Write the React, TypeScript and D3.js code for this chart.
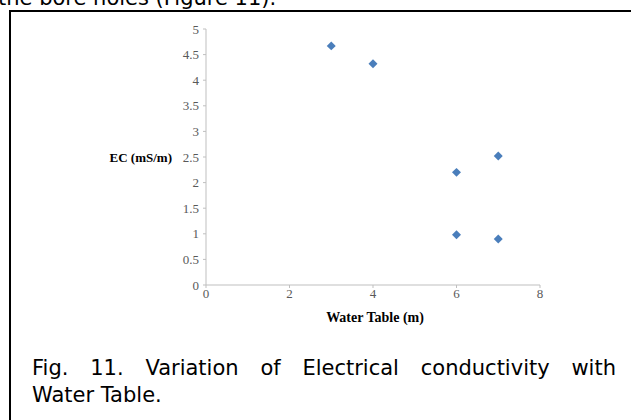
import React, { useLayoutEffect, useRef, useState } from "react";
import * as d3 from "d3";

const waterTable = [3, 4, 6, 7, 6, 7];
const ecValues = [4.67, 4.32, 2.2, 2.52, 0.98, 0.9];
const xTicks = [0, 2, 4, 6, 8];
const yTicks = [0, 0.5, 1, 1.5, 2, 2.5, 3, 3.5, 4, 4.5, 5];
const captionLine1 = ["Fig.", "11.", "Variation", "of", "Electrical", "conductivity", "with"];
const captionLine2 = "Water Table.";
const topText = "the bore holes (Figure 11).";

export default function App() {
  const W = 631, H = 420;
  const x = d3.scaleLinear().domain([0, 8]).range([206, 540]);
  const y = d3.scaleLinear().domain([0, 5]).range([285, 29]);
  const sq = d3.symbol().type(d3.symbolSquare).size(40)() || "";
  const axisColor = "#bfbfbf";
  const tickColor = "#595959";
  const serif = "'Liberation Serif', 'Times New Roman', serif";
  const sans = "'DejaVu Sans', Verdana, sans-serif";
  const capSize = 21;

  const refs = useRef<(SVGTextElement | null)[]>([]);
  const [xs, setXs] = useState<number[] | null>(null);
  useLayoutEffect(() => {
    const widths = refs.current.map((el) => (el ? el.getComputedTextLength() : 0));
    const left = 32, right = 616;
    const total = widths.reduce((a, b) => a + b, 0);
    const gap = (right - left - total) / (widths.length - 1);
    const out: number[] = [];
    let cx = left;
    widths.forEach((w) => { out.push(cx); cx += w + gap; });
    setXs(out);
  }, []);

  return (
    <svg width={W} height={H} style={{ position: "absolute", left: 0, top: 0, background: "#fff" }}>
      <rect x={0} y={0} width={W} height={H} fill="#fff" />
      <text x={-2} y={5} fontFamily={sans} fontSize={21} fill="#000">{topText}</text>
      <line x1={10} y1={11} x2={W} y2={11} stroke="#000" strokeWidth={2} />
      <line x1={10} y1={10} x2={10} y2={H} stroke="#000" strokeWidth={2} />

      {/* axes */}
      <line x1={x(0)} y1={y(0)} x2={x(0)} y2={y(5)} stroke={axisColor} strokeWidth={1} />
      <line x1={x(0)} y1={y(0)} x2={x(8)} y2={y(0)} stroke={axisColor} strokeWidth={1} />
      {yTicks.map((t) => (
        <g key={"y" + t}>
          <line x1={x(0) - 3} x2={x(0)} y1={y(t)} y2={y(t)} stroke={axisColor} />
          <text x={x(0) - 7} y={y(t)} dy="0.35em" textAnchor="end" fontFamily={serif} fontSize={13} fill={tickColor}>{t}</text>
        </g>
      ))}
      {xTicks.map((t) => (
        <g key={"x" + t}>
          <line x1={x(t)} x2={x(t)} y1={y(0)} y2={y(0) + 3} stroke={axisColor} />
          <text x={x(t)} y={y(0) + 13} textAnchor="middle" fontFamily={serif} fontSize={13} fill={tickColor}>{t}</text>
        </g>
      ))}
      <text x={172} y={y(2.5)} dy="0.35em" textAnchor="end" fontFamily={serif} fontSize={13} fontWeight="bold" fill="#000">EC (mS/m)</text>
      <text x={375} y={322} textAnchor="middle" fontFamily={serif} fontSize={14} fontWeight="bold" fill="#000">Water Table (m)</text>

      {waterTable.map((v, i) => (
        <path key={"p" + i} d={sq} transform={`translate(${x(v)},${y(ecValues[i])}) rotate(45)`} fill="#4a7ebb" />
      ))}

      {captionLine1.map((w, i) => (
        <text key={"c" + i} ref={(el) => { refs.current[i] = el; }} x={xs ? xs[i] : 32 + i * 80} y={375} fontFamily={sans} fontSize={capSize} fill="#000">{w}</text>
      ))}
      <text x={32} y={402} fontFamily={sans} fontSize={capSize} fill="#000">{captionLine2}</text>
    </svg>
  );
}
